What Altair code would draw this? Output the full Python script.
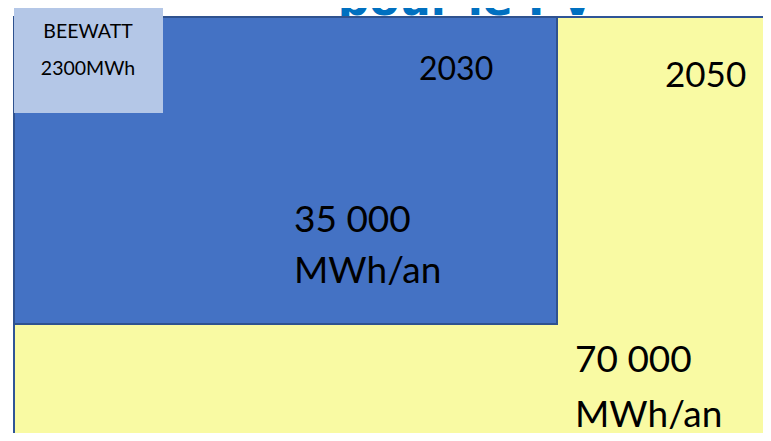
import altair as alt
import pandas as pd

# Diagram in pixel-like units (x to the right, y downward)
box_names = ["2050", "2030", "BEEWATT"]
box_x0 = [14, 14, 14]
box_x1 = [900, 557, 163]
box_y0 = [17, 17, 6]
box_y1 = [600, 324, 113]

label_texts = ["BEEWATT", "2300MWh", "2030", "2050", "35 000", "MWh/an", "70 000", "MWh/an"]
label_x = [88, 88, 419, 665, 294, 294, 575, 575]
label_y = [38, 75, 80, 87, 232, 283, 372, 427]
label_size = [19.5, 19.5, 32, 35, 37, 37, 37, 37]
label_align = ["center", "center", "left", "left", "left", "left", "left", "left"]

title_text = ["pour le PV"]
title_x = [466]
title_y = [15]

W, H = 755, 425
fills = {"2050": "#F9FAA3", "2030": "#4472C4", "BEEWATT": "#B4C7E7"}
strokes = {"2050": "#2F5597", "2030": "#2F528F", "BEEWATT": "#B4C7E7"}

boxes = pd.DataFrame({"name": box_names, "x0": box_x0, "x1": box_x1, "y0": box_y0, "y1": box_y1})
labels = pd.DataFrame({"t": label_texts, "x": label_x, "y": label_y, "s": label_size, "a": label_align})
title = pd.DataFrame({"t": title_text, "x": title_x, "y": title_y})

xs = alt.Scale(domain=[8, 8 + W], range=[0, W], zero=False, nice=False)
ys = alt.Scale(domain=[8, 8 + H], range=[0, H], zero=False, nice=False)
noax = None

title_layer = alt.Chart(title).mark_text(
    font="DejaVu Sans", fontWeight="bold", fontSize=44, color="#0070C0",
    align="center", baseline="alphabetic"
).encode(
    x=alt.X("x:Q", scale=xs, axis=noax),
    y=alt.Y("y:Q", scale=ys, axis=noax),
    text="t:N",
)

box_layers = []
for n in box_names:
    d = boxes[boxes["name"] == n]
    box_layers.append(
        alt.Chart(d).mark_rect(fill=fills[n], stroke=strokes[n], strokeWidth=2 if n != "BEEWATT" else 0).encode(
            x=alt.X("x0:Q", scale=xs, axis=noax),
            x2="x1:Q",
            y=alt.Y("y0:Q", scale=ys, axis=noax),
            y2="y1:Q",
        )
    )

text_layers = []
for al in ["center", "left"]:
    d = labels[labels["a"] == al]
    text_layers.append(
        alt.Chart(d).mark_text(font="Lato", color="#000000", align=al, baseline="alphabetic").encode(
            x=alt.X("x:Q", scale=xs, axis=noax),
            y=alt.Y("y:Q", scale=ys, axis=noax),
            text="t:N",
            size=alt.Size("s:Q", scale=None, legend=None),
        )
    )

chart = alt.layer(title_layer, *box_layers, *text_layers).properties(
    width=W, height=H, padding=0, autosize=alt.AutoSizeParams(type="none"),
    background="white",
).configure_view(stroke=None)

chart.save("out.html", embed_options={"renderer": "svg", "actions": False})
